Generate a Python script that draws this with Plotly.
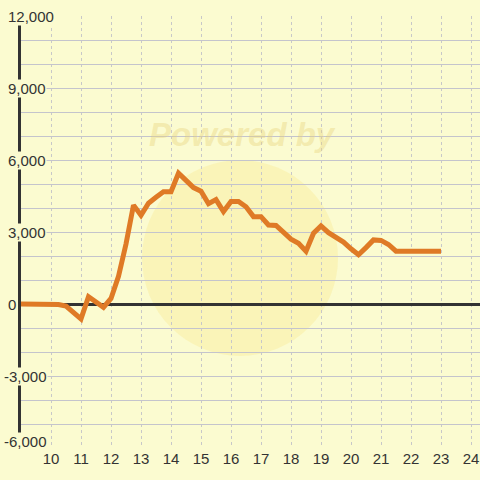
import plotly.graph_objects as go

hours = [9.0, 9.25, 9.5, 9.75, 10.0, 10.25, 10.5, 10.75, 11.0, 11.25, 11.5, 11.75,
         12.0, 12.25, 12.5, 12.75, 13.0, 13.25, 13.5, 13.75, 14.0, 14.25, 14.5, 14.75,
         15.0, 15.25, 15.5, 15.75, 16.0, 16.25, 16.5, 16.75, 17.0, 17.25, 17.5, 17.75,
         18.0, 18.25, 18.5, 18.75, 19.0, 19.25, 19.5, 19.75, 20.0, 20.25, 20.5, 20.75,
         21.0, 21.25, 21.5, 21.75, 22.0, 22.25, 22.5, 22.75, 23.0]
values = [0, 0, 0, 0, 0, -20, -90, -360, -620, 300, 80, -140,
          230, 1150, 2500, 4120, 3700, 4200, 4450, 4680, 4680, 5450, 5150, 4850,
          4700, 4180, 4350, 3850, 4270, 4270, 4050, 3640, 3640, 3290, 3270, 2980,
          2700, 2530, 2200, 2950, 3250, 2970, 2780, 2580, 2300, 2050, 2350, 2670,
          2650, 2480, 2200, 2200, 2200, 2200, 2200, 2200, 2200]

x_ticks = list(range(10, 25))
y_label_vals = [12000, 9000, 6000, 3000, 0, -3000, -6000]
y_label_text = ["12,000", "9,000", "6,000", "3,000", "0", "-3,000", "-6,000"]

BG = "#FBFBD0"
TXT = "#333333"

fig = go.Figure()
fig.add_trace(go.Scatter(x=hours, y=values, mode="lines",
                         line=dict(color="#DF7A26", width=5),
                         hoverinfo="skip", showlegend=False))

# watermark
fig.add_shape(type="circle", xref="paper", yref="paper",
              x0=(142 - 21) / 459, x1=(338 - 21) / 459,
              y0=(448 - 356) / 432, y1=(448 - 160) / 432,
              fillcolor="rgba(250,230,135,0.32)", line=dict(width=0), layer="below")
fig.add_annotation(xref="paper", yref="paper", x=(242 - 21) / 459, y=(448 - 133) / 432,
                   yshift=19,
                   text="<b><i>Powered by</i></b>", showarrow=False,
                   font=dict(size=33, color="rgba(232,210,120,0.40)", family="Liberation Sans"))

for v, t in zip(y_label_vals, y_label_text):
    xs = -18 if t.startswith("-") else -14
    ys = 7 if v == -6000 else 0
    fig.add_annotation(xref="paper", yref="y", x=0, y=v, text=t, showarrow=False,
                       xanchor="left", yanchor="middle", xshift=xs, yshift=ys,
                       bgcolor=BG, borderpad=0,
                       font=dict(size=15, color=TXT, family="Liberation Sans"))

fig.update_layout(
    width=480, height=480, autosize=False,
    margin=dict(l=21, r=0, t=16, b=32, autoexpand=False),
    paper_bgcolor=BG, plot_bgcolor=BG,
    font=dict(family="Liberation Sans", color=TXT),
    xaxis=dict(range=[9, 24.3], tickvals=x_ticks, ticktext=[str(v) for v in x_ticks],
               showgrid=True, gridcolor="#C8C8C8", griddash="3px,3px", gridwidth=1,
               zeroline=False, showline=False, ticks="", automargin=False,
               tickfont=dict(size=15, color=TXT)),
    yaxis=dict(range=[-6000, 12000], dtick=1000, tick0=0, showticklabels=False,
               showgrid=True, gridcolor="#C4C4CC", gridwidth=1, automargin=False,
               zeroline=True, zerolinecolor="#333333", zerolinewidth=3,
               showline=True, linecolor="#333333", linewidth=3, ticks=""),
)

fig.write_html("out.html", config={"displayModeBar": False},
               post_script="document.body.style.margin='0';document.body.style.background='%s';" % BG)
